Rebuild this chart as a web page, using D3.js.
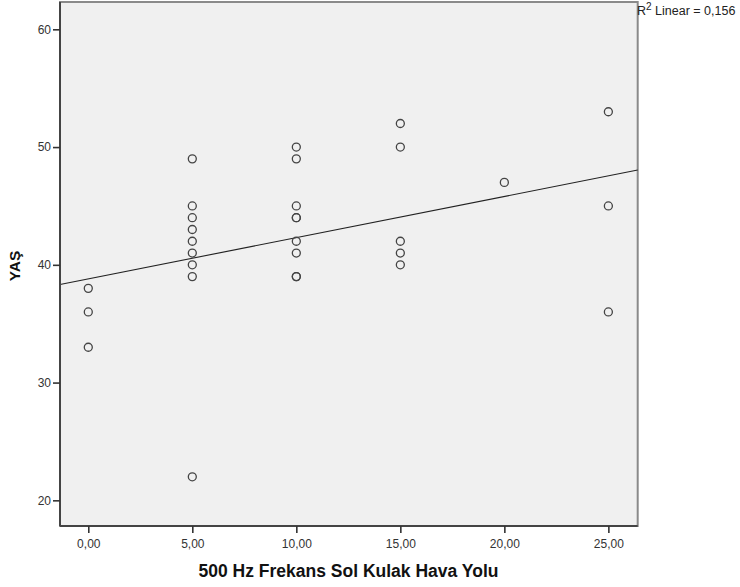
<!DOCTYPE html>
<html><head><meta charset="utf-8">
<script src="https://cdn.jsdelivr.net/npm/d3@7"></script>
<style>body{margin:0;background:#fff}svg{display:block}</style>
</head><body>
<svg id="c" width="740" height="587"></svg>
<script>
// Data: 500 Hz Frekans Sol Kulak Hava Yolu (x) vs YAŞ (y)
const xValues = [0,0,0, 5,5,5,5,5,5,5,5,5, 10,10,10,10,10,10,10,10,10, 15,15,15,15,15, 20, 25,25,25];
const yValues = [38,36,33, 49,45,44,43,42,41,40,39,22, 50,49,45,44,44,42,41,39,39, 52,50,42,41,40, 47, 53,45,36];
const xTicks = [0,5,10,15,20,25];
const yTicks = [20,30,40,50,60];
const xTitle = "500 Hz Frekans Sol Kulak Hava Yolu";
const yTitle = "YAŞ";

const svg = d3.select("#c");
const L = 60, R = 637.7, T = 2, B = 526;
const x = d3.scaleLinear().domain([-1.36, 26.41]).range([L, R]);
const y = d3.scaleLinear().domain([17.82, 62.32]).range([B, T]);
const font = "'Liberation Sans', Arial, sans-serif";

// plot background
svg.append("rect").attr("x", L).attr("y", T).attr("width", R - L).attr("height", B - T)
  .attr("fill", "#f0f0f0").attr("stroke", "#8a8a8a").attr("stroke-width", 2);

// regression
const n = xValues.length;
const mx = d3.mean(xValues), my = d3.mean(yValues);
let sxy = 0, sxx = 0, syy = 0;
for (let i = 0; i < n; i++) { sxy += (xValues[i]-mx)*(yValues[i]-my); sxx += (xValues[i]-mx)**2; syy += (yValues[i]-my)**2; }
const slope = sxy / sxx, icpt = my - slope * mx;
const r2 = sxy * sxy / (sxx * syy);
const [x0, x1] = x.domain();
svg.append("line")
  .attr("x1", x(x0)).attr("y1", y(icpt + slope * x0))
  .attr("x2", x(x1)).attr("y2", y(icpt + slope * x1))
  .attr("stroke", "#222").attr("stroke-width", 1.1);

// points
svg.append("g").selectAll("circle").data(xValues.map((v, i) => [v, yValues[i]])).join("circle")
  .attr("cx", d => x(d[0])).attr("cy", d => y(d[1])).attr("r", 4)
  .attr("fill", "none").attr("stroke", "#444").attr("stroke-width", 1.3);

// axes
const yAxis = svg.append("g").attr("transform", `translate(${L},0)`)
  .call(d3.axisLeft(y).tickValues(yTicks).tickSize(7).tickPadding(2).tickFormat(d3.format("d")));
const xAxis = svg.append("g").attr("transform", `translate(0,${B})`)
  .call(d3.axisBottom(x).tickValues(xTicks).tickSize(7).tickPadding(6).tickFormat(d => d.toFixed(2).replace(".", ",")));
[yAxis, xAxis].forEach(g => {
  g.select(".domain").attr("stroke", "#444").attr("stroke-width", 2);
  g.selectAll(".tick line").attr("stroke", "#333").attr("stroke-width", 1.6);
  g.selectAll(".tick text").attr("fill", "#333").style("font-family", font).style("font-size", "12px");
});
xAxis.select(".domain").attr("d", `M${L},0H${R}`);
yAxis.select(".domain").attr("d", `M0,${T}V${B}`);

// titles
svg.append("text").attr("x", 348.5).attr("y", 577).attr("text-anchor", "middle")
  .style("font-family", font).style("font-size", "17.5px").style("font-weight", "bold")
  .attr("fill", "#111").text(xTitle);
svg.append("text").attr("transform", "translate(20,266) rotate(-90)").attr("text-anchor", "middle")
  .style("font-family", font).style("font-size", "15.5px").style("font-weight", "bold")
  .attr("fill", "#111").text(yTitle);

// R² label
const lab = svg.append("text").attr("x", 637).attr("y", 15)
  .style("font-family", font).style("font-size", "12.5px").attr("fill", "#222");
lab.append("tspan").text("R");
lab.append("tspan").attr("dy", -5).style("font-size", "10px").text("2");
lab.append("tspan").attr("dy", 5).text(" Linear = " + r2.toFixed(3).replace(".", ","));
</script>
</body></html>
